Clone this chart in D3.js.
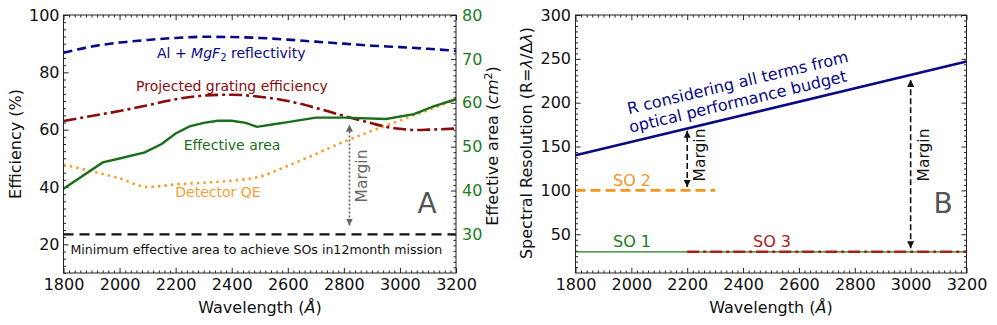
<!DOCTYPE html>
<html>
<head>
<meta charset="utf-8">
<script src="https://cdn.jsdelivr.net/npm/d3@7"></script>
<style>
  body { margin: 0; background: #fff; }
  svg { font-family: "DejaVu Sans", sans-serif; }
  .tick line { stroke: #222; }
</style>
</head>
<body>
<svg id="chart" width="997" height="325"></svg>
<script>
// ---- panel A : efficiencies (%) ----
var wlRefl = [1800, 1900, 2000, 2100, 2200, 2300, 2400, 2500, 2600, 2700, 2800, 2900, 3000, 3100, 3200];
var refl   = [86.8, 89.0, 90.4, 91.3, 92.0, 92.4, 92.3, 92.0, 91.4, 90.7, 90.0, 89.3, 88.8, 88.2, 87.5];

var wlGrating = [1800, 1900, 2000, 2100, 2200, 2300, 2400, 2500, 2600, 2700, 2800, 2900, 2950, 3000, 3050, 3100, 3200];
var grating   = [63.0, 64.8, 66.5, 68.5, 70.6, 71.9, 72.2, 71.5, 70.0, 67.6, 64.8, 62.2, 61.0, 60.3, 59.9, 60.0, 60.4];

var wlQE = [1800, 1900, 2000, 2100, 2200, 2300, 2400, 2500, 2600, 2700, 2800, 2900, 3000, 3100, 3200];
var qe   = [47.8, 45.5, 43.0, 40.0, 40.9, 41.5, 42.2, 43.6, 47.4, 51.5, 55.8, 59.6, 63.2, 66.8, 70.5];

// effective area (cm^2), right axis
var wlArea = [1800, 1940, 2000, 2090, 2150, 2200, 2250, 2300, 2350, 2400, 2450, 2490, 2550, 2600, 2700, 2800, 2950, 3050, 3120, 3200];
var area   = [40.4, 46.4, 47.3, 48.7, 50.6, 53.0, 54.6, 55.4, 55.9, 55.9, 55.4, 54.5, 55.1, 55.6, 56.6, 56.6, 56.3, 57.4, 59.2, 60.8];

var minArea = 30;                       // cm^2 needed for SOs
var marginA = { wl: 2820, lo: 32, hi: 55 };

// ---- panel B : spectral resolution ----
var wlRes = [1800, 3200];
var resR  = [140, 247];
var so1 = { wl: [1800, 3200], r: 30 };
var so2 = { wl: [1800, 2300], r: 100 };
var so3 = { wl: [2200, 3200], r: 30 };
var marginsB = [{ wl: 2200, lo: 104, hi: 168 }, { wl: 3000, lo: 34, hi: 226 }];

var xTicks  = [1800, 2000, 2200, 2400, 2600, 2800, 3000, 3200];
var effTicks = [20, 40, 60, 80, 100];
var areaTicks = [30, 40, 50, 60, 70, 80];
var resTicks = [50, 100, 150, 200, 250, 300];

(function() {
var svg = d3.select('#chart');
svg.append('rect').attr('width', 997).attr('height', 325).attr('fill', '#fff');

var plotTop = 15, plotBottom = 273;

var defs = svg.append('defs');
function marker(id, color) {
  defs.append('marker')
    .attr('id', id)
    .attr('viewBox', '0 0 10 10')
    .attr('refX', 10).attr('refY', 5)
    .attr('markerWidth', 7).attr('markerHeight', 7)
    .attr('markerUnits', 'userSpaceOnUse')
    .attr('orient', 'auto-start-reverse')
    .append('path').attr('d', 'M0,0L10,5L0,10z').attr('fill', color);
}
marker('headGrey', '#666');
marker('headBlack', '#111');

function minors(lo, hi, step, majors) {
  return d3.range(lo, hi + step / 2, step).filter(function(v) {
    return majors.indexOf(Math.round(v * 100) / 100) < 0;
  });
}

// draws one side's major + minor inside ticks
function side(g, axisFn, scale, tr, major, minor, pad, color) {
  var a = axisFn(scale).tickValues(major).tickSize(-5).tickPadding(pad)
    .tickFormat(color ? d3.format('d') : '');
  var ga = g.append('g').attr('transform', tr).call(a);
  ga.select('.domain').remove();
  ga.attr('font-family', '"DejaVu Sans", sans-serif').attr('font-size', 16);
  ga.selectAll('text').attr('fill', color || 'none');
  var gm = g.append('g').attr('transform', tr)
    .call(axisFn(scale).tickValues(minor).tickSize(-2.5).tickFormat(''));
  gm.select('.domain').remove();
}

function wavelengthLabel(g, cx) {
  var t = g.append('text').attr('x', cx).attr('y', 313)
    .attr('text-anchor', 'middle').attr('font-size', 16).attr('fill', '#111');
  t.append('tspan').text('Wavelength (');
  t.append('tspan').attr('font-style', 'italic').text('Å');
  t.append('tspan').text(')');
}

// ================= Panel A =================
var gA = svg.append('g');
var xA = d3.scaleLinear().domain([1800, 3200]).range([63.5, 456]);
var yEff = d3.scaleLinear().domain([10, 100]).range([plotBottom, plotTop]);
var yArea = d3.scaleLinear().domain([21.2, 80]).range([plotBottom, plotTop]);

var xMinor = minors(1800, 3200, 20, xTicks);
side(gA, d3.axisBottom, xA, 'translate(0,' + plotBottom + ')', xTicks, xMinor, 5.6, '#111');
side(gA, d3.axisTop, xA, 'translate(0,' + plotTop + ')', xTicks, xMinor, 0, null);
side(gA, d3.axisLeft, yEff, 'translate(63.5,0)', effTicks, minors(10, 100, 2.5, effTicks), 4, '#111');
side(gA, d3.axisRight, yArea, 'translate(456,0)', areaTicks, minors(22.5, 80, 1.25, areaTicks), 6, '#1e7b1e');

var lineA = function(xs, ys, y, curve) {
  return d3.line().x(function(d, i) { return xA(xs[i]); })
    .y(function(d) { return y(d); }).curve(curve || d3.curveLinear)(ys);
};

gA.append('path').attr('d', lineA(wlQE, qe, yEff, d3.curveMonotoneX))
  .attr('fill', 'none').attr('stroke', '#f5a033').attr('stroke-width', 2.6)
  .attr('stroke-dasharray', '2.5,4');
gA.append('path').attr('d', lineA(wlRefl, refl, yEff, d3.curveMonotoneX))
  .attr('fill', 'none').attr('stroke', '#0a0a85').attr('stroke-width', 2.6)
  .attr('stroke-dasharray', '9,5');
gA.append('path').attr('d', lineA(wlGrating, grating, yEff, d3.curveMonotoneX))
  .attr('fill', 'none').attr('stroke', '#8b0a0a').attr('stroke-width', 2.6)
  .attr('stroke-dasharray', '13,4,3,4');
gA.append('path').attr('d', lineA(wlArea, area, yArea))
  .attr('fill', 'none').attr('stroke', '#1a6e1a').attr('stroke-width', 2.4);
gA.append('path').attr('d', lineA([1800, 3200], [minArea, minArea], yArea))
  .attr('fill', 'none').attr('stroke', '#111').attr('stroke-width', 2.2)
  .attr('stroke-dasharray', '10,6');

gA.append('line')
  .attr('x1', xA(marginA.wl)).attr('x2', xA(marginA.wl))
  .attr('y1', yArea(marginA.lo)).attr('y2', yArea(marginA.hi))
  .attr('stroke', '#666').attr('stroke-width', 1.6).attr('stroke-dasharray', '2,2')
  .attr('marker-start', 'url(#headGrey)').attr('marker-end', 'url(#headGrey)');
gA.append('text').attr('transform', 'translate(367,176) rotate(-90)')
  .attr('text-anchor', 'middle').attr('font-size', 15.5).attr('fill', '#666').text('Margin');

var t = gA.append('text').attr('x', 157).attr('y', 58).attr('font-size', 14).attr('fill', '#0a0a85');
t.append('tspan').text('Al + ');
t.append('tspan').attr('font-style', 'italic').text('MgF');
t.append('tspan').attr('font-size', 10).attr('dy', 3).text('2');
t.append('tspan').attr('dy', -3).text(' reflectivity');

gA.append('text').attr('x', 136).attr('y', 90.5).attr('font-size', 14)
  .attr('fill', '#8b0a0a').text('Projected grating efficiency');
gA.append('text').attr('x', 232).attr('y', 150).attr('font-size', 14)
  .attr('text-anchor', 'middle').attr('fill', '#1a6e1a').text('Effective area');
gA.append('text').attr('x', 218).attr('y', 197).attr('font-size', 14)
  .attr('text-anchor', 'middle').attr('fill', '#f5a033').text('Detector QE');
gA.append('text').attr('x', 70.5).attr('y', 254).attr('font-size', 12.6)
  .attr('fill', '#111').text('Minimum effective area to achieve SOs in12month mission');
gA.append('text').attr('x', 427).attr('y', 213).attr('font-size', 28)
  .attr('text-anchor', 'middle').attr('fill', '#555').text('A');

gA.append('rect').attr('x', 63.5).attr('y', plotTop).attr('width', 392.5).attr('height', plotBottom - plotTop)
  .attr('fill', 'none').attr('stroke', '#222').attr('stroke-width', 1);

wavelengthLabel(gA, 260);
gA.append('text').attr('transform', 'translate(21,144) rotate(-90)')
  .attr('text-anchor', 'middle').attr('font-size', 16).attr('fill', '#111').text('Efficiency (%)');
var tr = gA.append('text').attr('transform', 'translate(498,146) rotate(-90)')
  .attr('text-anchor', 'middle').attr('font-size', 16).attr('fill', '#111');
tr.append('tspan').text('Effective area (');
tr.append('tspan').attr('font-style', 'italic').text('cm');
tr.append('tspan').attr('font-size', 11).attr('dy', -6).text('2');
tr.append('tspan').attr('dy', 6).text(')');

// ================= Panel B =================
var gB = svg.append('g');
var xB = d3.scaleLinear().domain([1800, 3200]).range([575.5, 966.5]);
var yR = d3.scaleLinear().domain([5.8, 300]).range([plotBottom, plotTop]);

side(gB, d3.axisBottom, xB, 'translate(0,' + plotBottom + ')', xTicks, xMinor, 5.6, '#111');
side(gB, d3.axisTop, xB, 'translate(0,' + plotTop + ')', xTicks, xMinor, 0, null);
side(gB, d3.axisLeft, yR, 'translate(575.5,0)', resTicks, minors(12.5, 300, 6.25, resTicks), 4.5, '#111');
side(gB, d3.axisRight, yR, 'translate(966.5,0)', resTicks, minors(12.5, 300, 6.25, resTicks), 0, null);

function hline(g, o, color, w, dash) {
  g.append('line')
    .attr('x1', xB(o.wl[0])).attr('x2', xB(o.wl[1]))
    .attr('y1', yR(o.r)).attr('y2', yR(o.r))
    .attr('stroke', color).attr('stroke-width', w).attr('stroke-dasharray', dash);
}
hline(gB, so1, '#1e7b1e', 1.2, null);
hline(gB, so3, '#a8201a', 2.6, '12,4,3,4');
hline(gB, so2, '#f7941d', 2.6, '10,5');

gB.append('path')
  .attr('d', d3.line().x(function(d, i) { return xB(wlRes[i]); }).y(function(d) { return yR(d); })(resR))
  .attr('fill', 'none').attr('stroke', '#0a0a85').attr('stroke-width', 2.6);

marginsB.forEach(function(m) {
  gB.append('line')
    .attr('x1', xB(m.wl)).attr('x2', xB(m.wl))
    .attr('y1', yR(m.lo)).attr('y2', yR(m.hi))
    .attr('stroke', '#111').attr('stroke-width', 1.6).attr('stroke-dasharray', '6,3')
    .attr('marker-start', 'url(#headBlack)').attr('marker-end', 'url(#headBlack)');
});
gB.append('text').attr('transform', 'translate(705,155) rotate(-90)')
  .attr('text-anchor', 'middle').attr('font-size', 15.5).attr('fill', '#111').text('Margin');
gB.append('text').attr('transform', 'translate(929,155) rotate(-90)')
  .attr('text-anchor', 'middle').attr('font-size', 15.5).attr('fill', '#111').text('Margin');

gB.append('text').attr('transform', 'translate(739,88) rotate(-13.4)')
  .attr('text-anchor', 'middle').attr('font-size', 16).attr('fill', '#0a0a85')
  .text('R considering all terms from');
gB.append('text').attr('transform', 'translate(739,107) rotate(-13.4)')
  .attr('text-anchor', 'middle').attr('font-size', 16).attr('fill', '#0a0a85')
  .text('optical performance budget');

gB.append('text').attr('x', 613).attr('y', 186).attr('font-size', 16)
  .attr('fill', '#f7941d').text('SO 2');
gB.append('text').attr('x', 613).attr('y', 247).attr('font-size', 16)
  .attr('fill', '#1e7b1e').text('SO 1');
gB.append('text').attr('x', 753).attr('y', 247).attr('font-size', 16)
  .attr('fill', '#a8201a').text('SO 3');
gB.append('text').attr('x', 943).attr('y', 213).attr('font-size', 28)
  .attr('text-anchor', 'middle').attr('fill', '#555').text('B');

gB.append('rect').attr('x', 575.5).attr('y', plotTop).attr('width', 391).attr('height', plotBottom - plotTop)
  .attr('fill', 'none').attr('stroke', '#222').attr('stroke-width', 1);

wavelengthLabel(gB, 771);
var ty = gB.append('text').attr('transform', 'translate(532,143) rotate(-90)')
  .attr('text-anchor', 'middle').attr('font-size', 16).attr('fill', '#111');
ty.append('tspan').text('Spectral Resolution  (R=');
ty.append('tspan').attr('font-style', 'italic').text('λ');
ty.append('tspan').text('/Δ');
ty.append('tspan').attr('font-style', 'italic').text('λ');
ty.append('tspan').text(')');
})();
</script>
</body>
</html>
